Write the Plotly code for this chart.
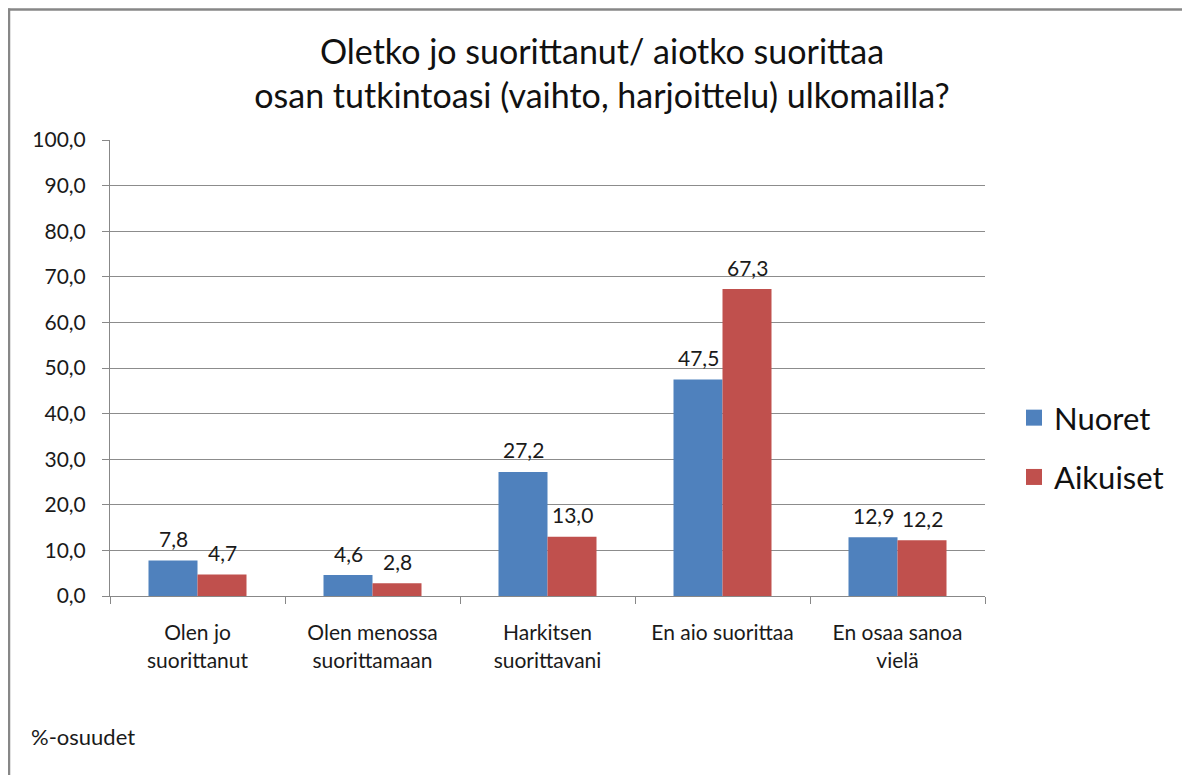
import plotly.graph_objects as go

categories = ["Olen jo<br>suorittanut", "Olen menossa<br>suorittamaan", "Harkitsen<br>suorittavani",
              "En aio suorittaa", "En osaa sanoa<br>vielä"]
nuoret = [7.8, 4.6, 27.2, 47.5, 12.9]
aikuiset = [4.7, 2.8, 13.0, 67.3, 12.2]
series_names = ["Nuoret", "Aikuiset"]
series_colors = ["#4F81BD", "#C0504D"]
title_lines = ["Oletko jo suorittanut/ aiotko suorittaa", "osan tutkintoasi (vaihto, harjoittelu) ulkomailla?"]
footnote = "%-osuudet"

# page body has an 8px margin; work in page pixels and convert
OFF = 8
W, H = 1190 - OFF, 775 - OFF
L, R, T, B = 110 - OFF, 985 - OFF, 140 - OFF, 596 - OFF
FONT = "Lato, 'Noto Sans', sans-serif"
TXT = "#1a1a1a"

def px2x(px):
    return (px - OFF - L) / (R - L)

def py2y(py):
    return (B - (py - OFF)) / (B - T)

fig = go.Figure()
annotations = []
bar_half = 24.5
for i, (name, vals, col) in enumerate(zip(series_names, [nuoret, aikuiset], series_colors)):
    fig.add_trace(go.Bar(
        x=categories, y=vals, name=name, marker=dict(color=col, line=dict(width=0)),
        showlegend=False,
    ))
    fig.add_trace(go.Scatter(
        x=[None], y=[None], mode="markers", name=name, legendgroup=name,
        marker=dict(symbol="square", size=19, color=col),
    ))
    for c, v in zip(categories, vals):
        annotations.append(dict(
            x=c, y=v, xref="x", yref="y", text=f"{v:.1f}".replace(".", ","),
            xshift=(-bar_half if i == 0 else bar_half), yshift=22, yanchor="middle",
            showarrow=False, font=dict(size=21, color=TXT),
        ))

annotations.append(dict(text=footnote, xref="paper", yref="paper", x=px2x(29), y=py2y(736),
                        xanchor="left", yanchor="middle", showarrow=False, font=dict(size=22, color=TXT)))

fig.update_layout(
    width=W, height=H, autosize=False,
    margin=dict(l=L, r=W - R, t=T, b=H - B),
    paper_bgcolor="white", plot_bgcolor="white",
    separators=",.",
    barmode="group", bargap=0.44, bargroupgap=0,
    font=dict(family=FONT, color=TXT, size=21),
    title=dict(text="<br>".join(title_lines), x=(602 - OFF) / W, xanchor="center",
               y=1 - (64 - OFF) / H, yanchor="middle",
               font=dict(size=34, color="#111")),
    legend=dict(x=px2x(1014), xanchor="left", y=py2y(447.5), yanchor="middle",
                font=dict(size=31, color="#111"), traceorder="grouped", tracegroupgap=16,
                itemsizing="trace"),
    xaxis=dict(showline=True, linecolor="#888", linewidth=1, ticks="outside", tickson="boundaries",
               ticklen=7, tickcolor="#888", tickfont=dict(size=21, color=TXT), showgrid=False,
               ticklabelstandoff=18),
    yaxis=dict(range=[0, 100], dtick=10, tickformat=".1f", showline=True, linecolor="#888", linewidth=1,
               ticks="outside", ticklen=7, tickcolor="#888", showgrid=True, gridcolor="#8c8c8c", gridwidth=1,
               tickfont=dict(size=21, color=TXT), zeroline=False, ticklabelstandoff=12),
    annotations=annotations,
    shapes=[
        dict(type="line", xref="paper", yref="paper", x0=px2x(8), x1=px2x(1200), y0=py2y(9.5), y1=py2y(9.5),
             line=dict(color="#878787", width=2.5)),
        dict(type="line", xref="paper", yref="paper", x0=px2x(9), x1=px2x(9), y0=py2y(8.5), y1=py2y(790),
             line=dict(color="#878787", width=2.5)),
    ],
)

fig.write_html("out.html")
